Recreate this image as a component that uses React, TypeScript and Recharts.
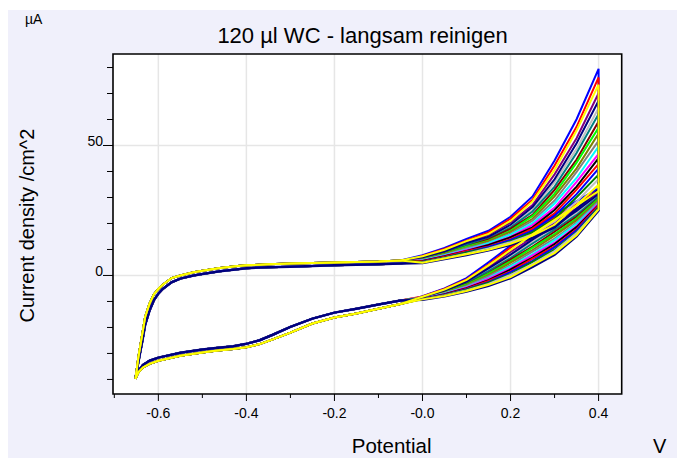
import React from 'react';
import { ScatterChart, Scatter, XAxis, YAxis, CartesianGrid, ReferenceArea } from 'recharts';

// ---- axes ----
const xDomain = [-0.703, 0.4525];
const yDomain = [-45.6, 85.2];
const xMajorTicks = [-0.6, -0.4, -0.2, 0, 0.2, 0.4];
const xTickLabels = ['-0.6', '-0.4', '-0.2', '-0.0', '0.2', '0.4'];
const xMinorTicks = [-0.7, -0.5, -0.3, -0.1, 0.1, 0.3];
const yMajorTicks = [0, 50];
const yTickLabels = ['0', '50'];
const yMinorTicks = [-40, -30, -20, -10, 10, 20, 30, 40, 60, 70, 80];

// ---- shared potentials (V) and currents of the left part ----
const fwdLeftV = [-0.652, -0.645, -0.64, -0.635, -0.63, -0.62, -0.61, -0.6, -0.59, -0.57, -0.55, -0.52, -0.5, -0.46, -0.42, -0.4, -0.35, -0.3, -0.25, -0.2, -0.15, -0.1, -0.05];
const fwdLeftIA = [-39.8, -31, -26, -21, -16, -10.8, -7.2, -5.2, -3.6, -1.0, 0.0, 1.2, 1.8, 2.9, 3.6, 3.9, 4.3, 4.6, 4.8, 5.0, 5.2, 5.4, 5.8];
const fwdLeftIB = [-39.5, -33, -28.5, -24, -19, -13.5, -9.5, -7, -5.2, -2.6, -1.2, 0.0, 0.6, 1.6, 2.4, 2.8, 3.2, 3.4, 3.6, 3.9, 4.1, 4.3, 4.6];
const fwdRightV = [0, 0.05, 0.1, 0.15, 0.2, 0.25, 0.3, 0.35, 0.4];
const revRightV = [0.4, 0.35, 0.3, 0.25, 0.2, 0.15, 0.1, 0.05, 0];
const revLeftV = [-0.05, -0.1, -0.15, -0.2, -0.25, -0.3, -0.34, -0.37, -0.4, -0.43, -0.47, -0.5, -0.55, -0.6, -0.62, -0.635, -0.645, -0.652];
const revLeftIA = [-11.0, -12.8, -14.6, -16.2, -18.5, -22.0, -24.6, -26.4, -27.6, -28.3, -29.0, -29.6, -30.9, -32.8, -34.0, -35.4, -37.2, -39.8];
const revLeftIB = [-9.6, -11.2, -12.8, -14.3, -16.6, -19.8, -22.8, -24.9, -26.3, -27.2, -27.9, -28.5, -29.7, -31.6, -32.8, -34.4, -36.6, -39.5];

// ---- per-cycle currents (µA/cm^2), forward 0..0.4 V ----
const f01 = [7.8, 10.6, 14.1, 17.2, 22.6, 30.4, 44.2, 60.1, 79.5];
const f02 = [7.5, 10.2, 13.4, 16.6, 21.8, 29.1, 42.3, 57.2, 76.2];
const f03 = [7.4, 9.9, 13.2, 16.0, 21.0, 28.5, 40.6, 55.8, 73.4];
const f04 = [7.1, 9.7, 12.7, 15.6, 20.4, 27.1, 38.9, 52.8, 70.1];
const f05 = [7.0, 9.3, 12.5, 14.9, 19.5, 26.3, 37.0, 50.9, 67.2];
const f06 = [6.8, 9.2, 11.9, 14.7, 19.1, 25.2, 35.9, 48.7, 64.4];
const f07 = [6.6, 8.9, 11.8, 14.2, 18.4, 24.6, 34.2, 47.1, 62.1];
const f08 = [6.5, 8.6, 11.2, 13.9, 17.9, 23.3, 32.9, 44.6, 59.2];
const f09 = [6.3, 8.4, 11.1, 13.4, 17.2, 22.9, 31.5, 43.4, 56.8];
const f10 = [6.2, 8.3, 10.6, 13.2, 16.8, 21.8, 30.4, 41.2, 54.6];
const f11 = [6.0, 7.9, 10.5, 12.6, 16.1, 21.1, 28.8, 39.8, 51.9];
const f12 = [5.9, 7.8, 10.0, 12.4, 15.7, 20.1, 27.7, 37.5, 49.6];
const f13 = [5.7, 7.5, 9.8, 11.8, 14.9, 19.4, 26.1, 36.0, 46.8];
const f14 = [5.6, 7.4, 9.4, 11.7, 14.7, 18.5, 25.2, 34.2, 45.1];
const f15 = [5.4, 7.2, 9.3, 11.2, 14.0, 18.0, 23.9, 33.0, 42.9];
const f16 = [5.3, 6.9, 8.9, 11.0, 13.7, 17.2, 23.0, 31.3, 41.1];
const f17 = [5.2, 6.8, 8.8, 10.5, 13.1, 16.7, 21.7, 30.1, 38.8];
const f18 = [5.0, 6.6, 8.4, 10.4, 12.8, 15.8, 20.8, 28.4, 37.1];
const f19 = [4.9, 6.5, 8.2, 9.9, 12.2, 15.3, 19.5, 27.1, 34.9];
const f20 = [4.8, 6.3, 7.9, 9.7, 11.8, 14.5, 18.5, 25.5, 33.0];

// ---- per-cycle currents, reverse 0.4..0 V ----
const r01 = [33.5, 28.6, 23.4, 17.6, 11.4, 5.1, -1.0, -5.0, -8.0];
const r02 = [32.8, 27.4, 22.4, 16.3, 10.7, 4.2, -1.5, -5.2, -8.1];
const r03 = [32.5, 26.9, 21.4, 15.8, 9.8, 3.9, -1.7, -5.4, -8.2];
const r04 = [31.7, 25.8, 20.4, 14.5, 9.1, 3.1, -2.1, -5.6, -8.3];
const r05 = [31.3, 24.8, 19.2, 13.8, 8.0, 2.7, -2.4, -5.8, -8.3];
const r06 = [30.7, 24.2, 18.6, 12.8, 7.6, 2.0, -2.7, -6.0, -8.4];
const r07 = [30.4, 23.3, 17.6, 12.3, 6.7, 1.7, -3.0, -6.1, -8.5];
const r08 = [29.7, 22.6, 16.8, 11.1, 6.1, 0.9, -3.3, -6.3, -8.6];
const r09 = [29.5, 21.9, 15.9, 10.7, 5.4, 0.7, -3.5, -6.5, -8.6];
const r10 = [28.8, 21.3, 15.3, 9.8, 4.9, 0.1, -3.8, -6.6, -8.7];
const r11 = [28.6, 20.4, 14.2, 9.2, 4.0, -0.3, -4.1, -6.8, -8.8];
const r12 = [27.9, 19.9, 13.6, 8.2, 3.5, -0.9, -4.4, -6.9, -8.8];
const r13 = [27.7, 19.0, 12.6, 7.7, 2.7, -1.2, -4.6, -7.1, -8.9];
const r14 = [27.1, 18.6, 12.1, 6.9, 2.3, -1.8, -4.9, -7.2, -9.0];
const r15 = [26.9, 17.8, 11.2, 6.5, 1.6, -2.1, -5.1, -7.4, -9.0];
const r16 = [26.4, 17.4, 10.8, 5.6, 1.3, -2.6, -5.3, -7.5, -9.1];
const r17 = [26.2, 16.6, 9.9, 5.2, 0.5, -2.8, -5.5, -7.6, -9.1];
const r18 = [25.6, 16.3, 9.4, 4.4, 0.2, -3.3, -5.8, -7.7, -9.2];
const r19 = [25.4, 15.5, 8.6, 4.0, -0.6, -3.6, -6.0, -7.9, -9.2];
const r20 = [25.0, 15.0, 8.0, 3.3, -1.0, -4.0, -6.2, -8.0, -9.3];

const cycleForward = [f01, f02, f03, f04, f05, f06, f07, f08, f09, f10, f11, f12, f13, f14, f15, f16, f17, f18, f19, f20];
const cycleReverse = [r01, r02, r03, r04, r05, r06, r07, r08, r09, r10, r11, r12, r13, r14, r15, r16, r17, r18, r19, r20];
const cycleColors = ['#0000FF', '#FF0000', '#FFFF00', '#800080', '#000080', '#C0C0C0', '#008080', '#800000', '#00FF00', '#808000', '#808080', '#00FFFF', '#FF00FF', '#000000', '#FF0000', '#0000FF', '#008000', '#C0C0C0', '#FFFF00', '#000080'];
const drawOrder = [0, 1, 3, 5, 6, 7, 8, 9, 10, 11, 12, 13, 14, 15, 16, 17, 4, 19, 18, 2];

const FONT = '"Liberation Sans", Arial, sans-serif';

function buildCycle(idx: number) {
  const left = idx % 2 === 0 ? fwdLeftIA : fwdLeftIB;
  const rleft = idx % 2 === 0 ? revLeftIA : revLeftIB;
  const pts: { v: number; i: number }[] = [];
  fwdLeftV.forEach((v, k) => pts.push({ v, i: left[k] }));
  fwdRightV.forEach((v, k) => pts.push({ v, i: cycleForward[idx][k] }));
  revRightV.forEach((v, k) => pts.push({ v, i: cycleReverse[idx][k] }));
  revLeftV.forEach((v, k) => pts.push({ v, i: rleft[k] }));
  return pts;
}

const near = (a: number, b: number) => Math.abs(a - b) < 1e-6;

const XTick = (props: any) => {
  const { x, y, payload } = props;
  const mi = xMajorTicks.findIndex((t) => near(t, payload.value));
  const major = mi >= 0;
  return (
    <g>
      <line x1={x} x2={x} y1={y} y2={y + (major ? 7 : 4)} stroke="#000" strokeWidth={1} />
      {major && (
        <text x={x} y={y + 23.5} textAnchor="middle" fontSize={14} fontFamily={FONT} fill="#000">
          {xTickLabels[mi]}
        </text>
      )}
    </g>
  );
};

const YTick = (props: any) => {
  const { x, y, payload } = props;
  const mi = yMajorTicks.findIndex((t) => near(t, payload.value));
  const major = mi >= 0;
  return (
    <g>
      <line x1={x - (major ? 10 : 6)} x2={x} y1={y} y2={y} stroke="#000" strokeWidth={1} />
      {major && (
        <text x={x - 10} y={y + 1} textAnchor="end" fontSize={14} fontFamily={FONT} fill="#000">
          {yTickLabels[mi]}
        </text>
      )}
    </g>
  );
};

export default function App() {
  const W = 669;
  const H = 448;
  const xTicks = [...xMajorTicks, ...xMinorTicks].sort((a, b) => a - b);
  const yTicks = [...yMajorTicks, ...yMinorTicks].sort((a, b) => a - b);
  return (
    <div style={{ position: 'relative', width: 677, height: 458, background: '#FFFFFF' }}>
      <style>{'html,body{margin:0;padding:0;overflow:hidden;}'}</style>
      <div style={{ position: 'absolute', left: 8, top: 10, width: W, height: H, background: '#F0F0FB' }}>
        <ScatterChart width={W} height={H} margin={{ top: 44, right: 55.3, bottom: 34, left: 95 }}>
          <CartesianGrid
            stroke="#E6E6E6"
            strokeWidth={1.5}
            verticalValues={xMajorTicks}
            horizontalValues={yMajorTicks}
            fill="#FFFFFF"
            fillOpacity={1}
          />
          <XAxis
            type="number"
            dataKey="v"
            domain={xDomain}
            allowDataOverflow
            ticks={xTicks}
            interval={0}
            height={30}
            tickSize={0}
            tickMargin={0}
            tickLine={false}
            axisLine={false}
            tick={<XTick />}
          />
          <YAxis
            type="number"
            dataKey="i"
            domain={yDomain}
            allowDataOverflow
            ticks={yTicks}
            interval={0}
            width={10}
            tickSize={0}
            tickMargin={0}
            tickLine={false}
            axisLine={false}
            tick={<YTick />}
          />
          {drawOrder.map((idx) => (
            <Scatter
              key={idx}
              data={buildCycle(idx)}
              line={{ stroke: cycleColors[idx], strokeWidth: idx === 19 ? 2.5 : 2 }}
              shape={() => <g />}
              isAnimationActive={false}
            />
          ))}
          <ReferenceArea
            x1={xDomain[0]}
            x2={xDomain[1]}
            y1={yDomain[0]}
            y2={yDomain[1]}
            fill="none"
            fillOpacity={0}
            stroke="#000"
            strokeWidth={1.6}
          />
        </ScatterChart>
        <svg width={W} height={H} style={{ position: 'absolute', left: 0, top: 0, pointerEvents: 'none' }}>
          <text x={17} y={14} fontSize={14} fontFamily={FONT} fill="#000">µA</text>
          <text x={354.5} y={32.5} fontSize={22} fontFamily={FONT} fill="#000" textAnchor="middle">
            120 µl WC - langsam reinigen
          </text>
          <text x={383.7} y={443} fontSize={20.5} fontFamily={FONT} fill="#000" textAnchor="middle">
            Potential
          </text>
          <text x={645} y={443} fontSize={20} fontFamily={FONT} fill="#000">V</text>
          <text
            x={26.3}
            y={215.6}
            fontSize={20}
            fontFamily={FONT}
            fill="#000"
            textAnchor="middle"
            transform="rotate(-90 26.3 215.6)"
          >
            Current density /cm^2
          </text>
        </svg>
      </div>
    </div>
  );
}
